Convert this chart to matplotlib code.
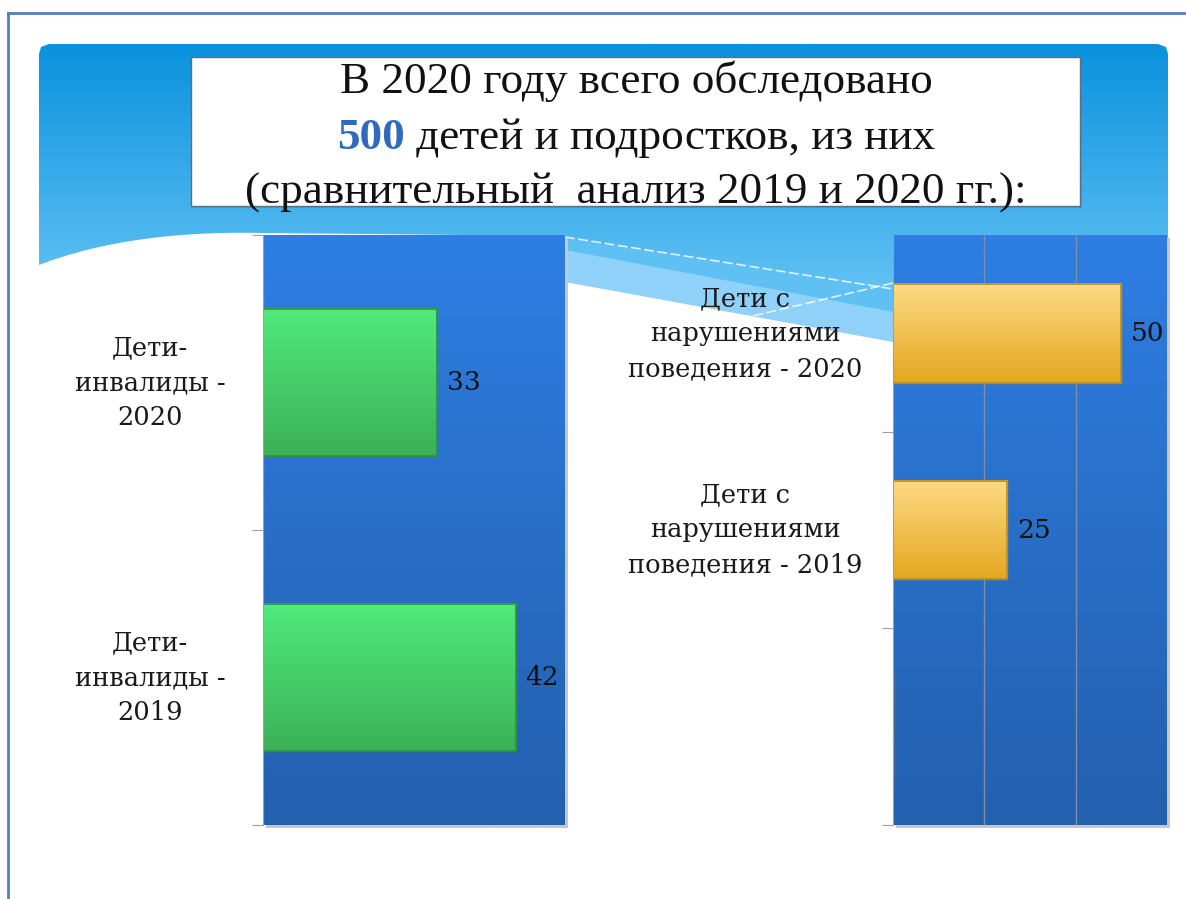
import numpy as np
import matplotlib
matplotlib.use("Agg")
import matplotlib.pyplot as plt
from matplotlib.path import Path
from matplotlib.patches import PathPatch, Rectangle
from matplotlib.colors import to_rgb
import matplotlib.transforms as mtransforms

# данные
left_labels = ["Дети-\nинвалиды -\n2020", "Дети-\nинвалиды -\n2019"]
left_values = [33, 42]
right_labels = ["Дети с\nнарушениями\nповедения - 2020", "Дети с\nнарушениями\nповедения - 2019", ""]
right_values = [50, 25, 0]
title_lines = ["В 2020 году всего обследовано",
               "детей и подростков, из них",
               "(сравнительный  анализ 2019 и 2020 гг.):"]
total = "500"

W, H = 1186, 899
fig = plt.figure(figsize=(W / 100, H / 100), dpi=100)
fig.patch.set_facecolor("white")

bg = fig.add_axes([0, 0, 1, 1])
bg.set_xlim(0, W)
bg.set_ylim(H, 0)
bg.axis("off")


def grad(stops, n=256):
    # stops: список (позиция, цвет)
    pos = np.linspace(0, 1, n)
    arr = np.zeros((n, 1, 3))
    ps = [s[0] for s in stops]
    cs = np.array([to_rgb(s[1]) for s in stops])
    for k in range(3):
        arr[:, 0, k] = np.interp(pos, ps, cs[:, k])
    return arr


# рамка слайда
bg.plot([8, W], [13, 13], color="#4f81bd", lw=2)
bg.plot([8, 8], [13, H], color="#4f81bd", lw=2)

# шапка с волной
t = np.linspace(0, 1, 30)
p0, p1, p2 = np.array([263, 233]), np.array([130, 230]), np.array([39, 265])
curve = [(1 - s) ** 2 * p0 + 2 * (1 - s) * s * p1 + s ** 2 * p2 for s in t]
verts = [(39, 265), (39, 54), (41, 47), (49, 44), (1158, 44), (1166, 47), (1168, 54),
         (1168, 305), (893, 312), (565, 250), (565, 236)] + [tuple(c) for c in curve]
hdr = PathPatch(Path(verts + [verts[0]]), transform=bg.transData, fc="none", ec="none")
bg.add_patch(hdr)
im = bg.imshow(grad([(0, "#0a92de"), (0.7, "#4fb7ef"), (1, "#6cc8f6")]),
               extent=(39, 1168, 320, 44), origin="upper", aspect="auto", zorder=1)
im.set_clip_path(hdr)

# светлая полоса волны
band = [(565, 250), (893, 312), (893, 342), (565, 282)]
bg.add_patch(PathPatch(Path(band + [band[0]]), fc="#8fd1f8", ec="none", zorder=1))
mid = [(565, 238), (893, 290), (893, 312), (565, 250)]
bg.add_patch(PathPatch(Path(mid + [mid[0]]), fc="#5fc0f4", ec="none", zorder=1))
bg.plot([565, 893], [237, 289], color="white", lw=1.2, ls=(0, (6, 2)), alpha=0.8, zorder=2)
bg.plot([893, 740], [283, 319], color="white", lw=1.2, ls=(0, (6, 2)), alpha=0.8, zorder=2)

# блок заголовка
bg.add_patch(Rectangle((193, 59), 889, 149, fc="#6a7f95", ec="none", alpha=0.5, zorder=3))
bg.add_patch(Rectangle((191, 57), 889, 149, fc="white", ec="#5a6f85", lw=1, zorder=3))
tfont = dict(family="Liberation Serif", fontsize=32.5, color="#111111", zorder=5)
cx = 636
bg.text(cx, 93, title_lines[0], ha="center", va="baseline", **tfont)
bg.text(cx, 204, title_lines[2], ha="center", va="baseline", **tfont)
t1 = bg.text(0, 149, total, ha="left", va="baseline", fontweight="bold",
             family="Liberation Serif", fontsize=32.5, color="#2e6bbd", zorder=5)
t2 = bg.text(0, 149, " " + title_lines[1], ha="left", va="baseline", **tfont)
r = fig.canvas.get_renderer()
w1 = t1.get_window_extent(r).width
w2 = t2.get_window_extent(r).width
x0 = cx - (w1 + w2) / 2
t1.set_x(x0)
t2.set_x(x0 + w1)

lab_font = dict(family="DejaVu Serif", fontsize=18.5, color="#1a1a1a")


def chart(rect_px, labels, values, xlim, bar_cols, edge, label_x, grid_x):
    l, tp, rr, bt = rect_px
    pos = [l / W, 1 - bt / H, (rr - l) / W, (bt - tp) / H]
    # тень и градиентный фон
    bg.add_patch(Rectangle((l + 3, tp + 3), rr - l, bt - tp, fc="#c4c7cc", ec="none", zorder=2))
    axb = fig.add_axes(pos, zorder=2)
    axb.imshow(grad([(0, "#2e7ee3"), (1, "#2360ae")]), extent=(0, 1, 0, 1),
               origin="upper", aspect="auto")
    axb.axis("off")
    ax = fig.add_axes(pos, zorder=3)
    ax.patch.set_alpha(0)
    n = len(labels)
    y = np.arange(n)
    bars = ax.barh(y, values, height=0.5, color=bar_cols[1], edgecolor=edge, lw=1, zorder=3)
    for b in bars:
        if b.get_width() <= 0:
            continue
        gi = ax.imshow(grad([(0, bar_cols[0]), (1, bar_cols[1])]),
                       extent=(b.get_x(), b.get_x() + b.get_width(), b.get_y() + b.get_height(), b.get_y()),
                       origin="upper", aspect="auto", zorder=3.5)
        gi.set_clip_path(b)
        gi.set_clip_box(ax.bbox)
        ax.add_patch(Rectangle((b.get_x(), b.get_y()), b.get_width(), b.get_height(),
                               fc="none", ec=edge, lw=1.2, zorder=4))
    ax.set_xlim(*xlim)
    ax.set_ylim(n - 0.5, -0.5)
    for s in ["top", "right", "bottom"]:
        ax.spines[s].set_visible(False)
    ax.spines["left"].set_color("#9aa0a8")
    ax.spines["left"].set_zorder(5)
    ax.set_xticks(grid_x)
    ax.tick_params(axis="x", length=0, labelbottom=False)
    if grid_x:
        ax.xaxis.grid(True, color="#7f8ea6", lw=1)
        ax.set_axisbelow(True)
    ax.set_yticks(np.arange(n + 1) - 0.5)
    ax.tick_params(axis="y", length=8, color="#9aa0a8", labelleft=False)
    tr = mtransforms.blended_transform_factory(ax.transAxes, ax.transData)
    for yi, lab, v in zip(y, labels, values):
        if lab:
            ax.text(label_x, yi, lab, transform=tr, ha="center", va="center",
                    multialignment="center", linespacing=1.5, **lab_font)
        if v:
            ax.annotate(str(v), (v, yi), xytext=(7, 0), textcoords="offset points",
                        ha="left", va="center", fontsize=19, family="DejaVu Serif", color="#111111")
    return ax


chart((263, 235, 565, 825), left_labels, left_values, (13.2, 47.6),
      ("#50ea7c", "#3bb155"), "#2f8f45", (150 - 263) / 302, [])
chart((893, 235, 1167, 825), right_labels, right_values, (0, 60),
      ("#fdda84", "#e5a720"), "#b98a1c", (745 - 893) / 274, [20, 40])

fig.savefig("out.png", dpi=100)
